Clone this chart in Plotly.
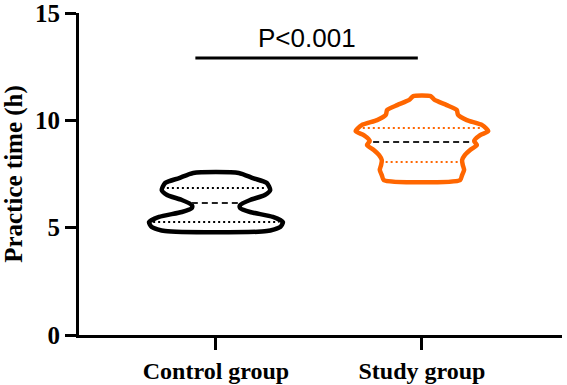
import numpy as np
import plotly.graph_objects as go

categories = ["Control group", "Study group"]
colors = ["#000000", "#FF6600"]

# violin outline: value levels and relative density
control_levels = [4.84, 5.03, 5.26, 5.50, 5.73, 5.92, 6.05, 6.29, 6.52, 6.75, 7.08, 7.31, 7.55]
control_density = [0.76, 0.96, 1.00, 0.85, 0.51, 0.36, 0.36, 0.51, 0.73, 0.81, 0.76, 0.55, 0.34]
study_levels = [7.22, 7.45, 7.69, 7.92, 8.15, 8.38, 8.62, 8.85, 9.04, 9.31, 9.50, 9.78,
                10.01, 10.25, 10.48, 10.71, 10.95, 11.13]
study_density = [0.57, 0.60, 0.63, 0.61, 0.60, 0.64, 0.72, 0.82, 0.78, 0.87, 0.99, 0.90,
                 0.67, 0.54, 0.52, 0.37, 0.19, 0.13]
# quartiles: Q1, median, Q3
control_quartiles = [5.26, 6.15, 6.85]
study_quartiles = [8.06, 8.99, 9.64]

p_text = "P<0.001"
sig_y = 12.9

levels = [control_levels, study_levels]
dens = [control_density, study_density]
quarts = [control_quartiles, study_quartiles]

W = 0.325  # max half width in category units

fig = go.Figure()
for i in range(2):
    lv = np.array(levels[i])
    d = np.array(dens[i])
    xs = np.concatenate([i + d * W, (i - d * W)[::-1], [i + d[0] * W]])
    ys = np.concatenate([lv, lv[::-1], [lv[0]]])
    fig.add_trace(go.Scatter(x=xs, y=ys, mode="lines", fill="toself",
                             fillcolor="white",
                             line=dict(color=colors[i], width=4.5, shape="spline", smoothing=0.6),
                             hoverinfo="skip", showlegend=False))
    for j, q in enumerate(quarts[i]):
        hw = np.interp(q, lv, d) * W - 0.02
        if j == 1:
            col, dash = "#222222", "6px,4px"
        else:
            col, dash = colors[i], "2px,3px"
        fig.add_trace(go.Scatter(x=[i - hw, i + hw], y=[q, q], mode="lines",
                                 line=dict(color=col, width=2, dash=dash),
                                 hoverinfo="skip", showlegend=False))

fig.add_shape(type="line", x0=-0.10, x1=0.98, y0=sig_y, y1=sig_y,
              line=dict(color="black", width=3))
fig.add_annotation(x=0.44, y=sig_y, text=p_text, showarrow=False, yanchor="bottom",
                   yshift=3, font=dict(family="Liberation Sans, Arial", size=26, color="black"))

fig.update_layout(
    width=567, height=385,
    margin=dict(l=79, r=5, t=13, b=50),
    plot_bgcolor="white", paper_bgcolor="white",
    font=dict(family="Liberation Serif, Times New Roman", size=24, color="black"),
    xaxis=dict(range=[-0.665, 1.68], tickvals=[0, 1], ticktext=categories,
               showline=True, linecolor="black", linewidth=3, ticks="outside",
               ticklen=12, tickwidth=3, tickcolor="black", showgrid=False, zeroline=False,
               automargin=False, ticklabeloverflow="allow",
               tickfont=dict(family="Liberation Serif", size=24, color="black", weight="bold")),
    yaxis=dict(range=[0, 15], tickvals=[0, 5, 10, 15],
               showline=True, linecolor="black", linewidth=3, ticks="outside",
               ticklen=11, tickwidth=3, tickcolor="black", showgrid=False, zeroline=False,
               automargin=False, ticklabeloverflow="allow",
               tickfont=dict(family="Liberation Serif", size=25, color="black", weight="bold"),
               title=dict(text="<b>Practice time (h)</b>", standoff=6,
                          font=dict(family="Liberation Serif", size=25, color="black"))),
)
fig.write_html("out.html")
